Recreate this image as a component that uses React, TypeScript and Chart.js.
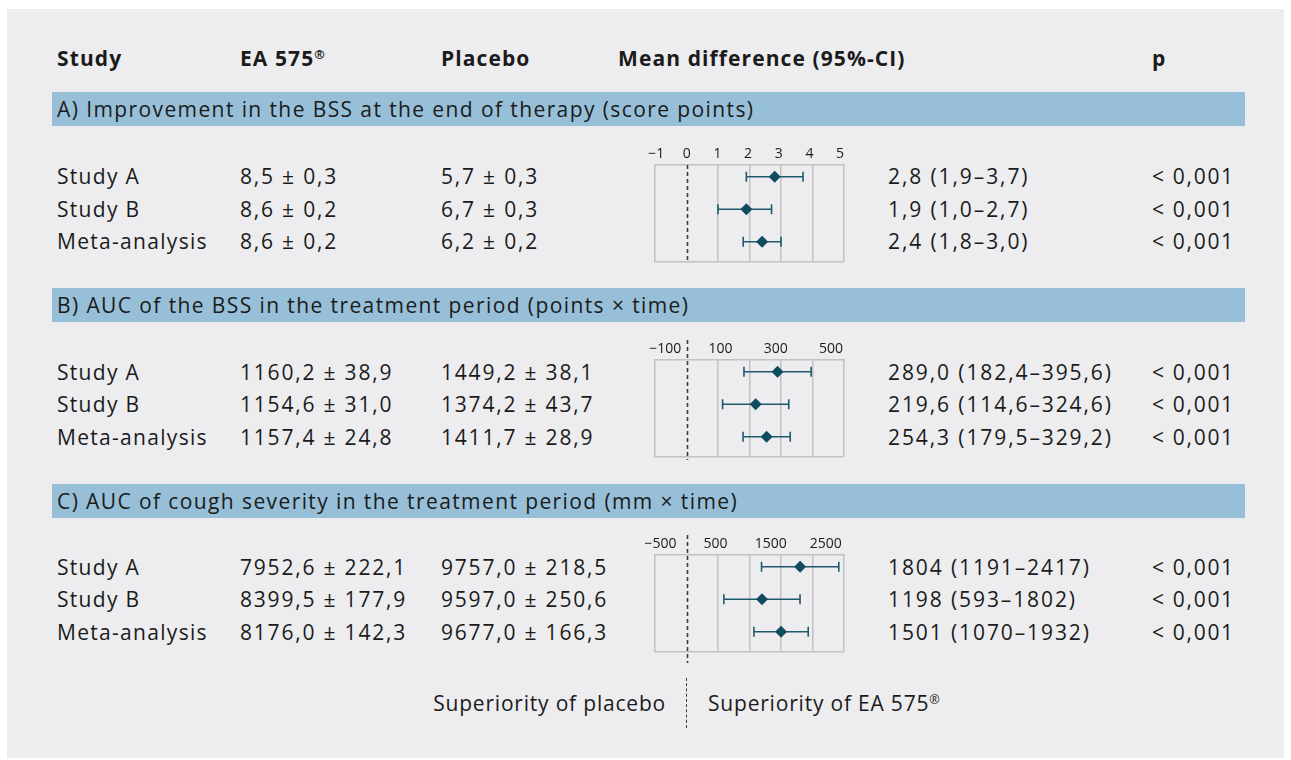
import React, { useEffect, useRef } from "react";
import { Chart, registerables } from "chart.js";

Chart.register(...registerables);

const FONT = "'Open Sans', 'Noto Sans', sans-serif";
const TEXT = "#1b1b1b";
const GRID = "#c2c2c4";
const MARK = "#0f4c5e";
const BAR = "#97bfd8";
const PANEL = "#ededf0";

// ---------- data ----------
const studies = ["Study A", "Study B", "Meta-analysis"];
const headers = ["Study", "EA 575", "Placebo", "Mean difference (95%-CI)", "p"];
const sectionTitles = [
  "A) Improvement in the BSS at the end of therapy (score points)",
  "B) AUC of the BSS in the treatment period (points × time)",
  "C) AUC of cough severity in the treatment period (mm × time)",
];
const pValues = ["< 0,001", "< 0,001", "< 0,001"];

// A
const eaMeanA = [8.5, 8.6, 8.6];
const eaSdA = [0.3, 0.2, 0.2];
const plMeanA = [5.7, 6.7, 6.2];
const plSdA = [0.3, 0.3, 0.2];
const diffA = [2.8, 1.9, 2.4];
const loA = [1.9, 1.0, 1.8];
const hiA = [3.7, 2.7, 3.0];
const tickLabelsA = [-1, 0, 1, 2, 3, 4, 5];

// B
const eaMeanB = [1160.2, 1154.6, 1157.4];
const eaSdB = [38.9, 31.0, 24.8];
const plMeanB = [1449.2, 1374.2, 1411.7];
const plSdB = [38.1, 43.7, 28.9];
const diffB = [289.0, 219.6, 254.3];
const loB = [182.4, 114.6, 179.5];
const hiB = [395.6, 324.6, 329.2];
const tickLabelsB = [-100, 100, 300, 500];

// C
const eaMeanC = [7952.6, 8399.5, 8176.0];
const eaSdC = [222.1, 177.9, 142.3];
const plMeanC = [9757.0, 9597.0, 9677.0];
const plSdC = [218.5, 250.6, 166.3];
const diffC = [1804, 1198, 1501];
const loC = [1191, 593, 1070];
const hiC = [2417, 1802, 1932];
const tickLabelsC = [-500, 500, 1500, 2500];

const fmt = (v: number, d: number) => v.toFixed(d).replace(".", ",");

// ---------- layout ----------
const COL = { study: 57, ea: 240, pl: 441, md: 618, ci: 888, p: 1152 };
const BOX_LEFT = 655;
const BOX_W = 189;
const BOX_H = 97;
const AXIS_H = 25;
const PAD_B = 15;

const errorBarPlugin = {
  id: "forestBars",
  beforeDatasetsDraw(chart: any, _a: any, opts: any) {
    const { ctx, chartArea } = chart;
    const x = chart.scales.x;
    const y = chart.scales.y;
    const zx = Math.round(x.getPixelForValue(0)) + 0.5;
    ctx.save();
    ctx.strokeStyle = "#3a3a3a";
    ctx.lineWidth = 1.6;
    ctx.setLineDash([4, 3]);
    ctx.beginPath();
    ctx.moveTo(zx, chartArea.top - (opts.extTop || 0));
    ctx.lineTo(zx, chartArea.bottom + (opts.extBottom || 0));
    ctx.stroke();
    ctx.setLineDash([]);
    ctx.strokeStyle = "#1e5a6c";
    ctx.lineWidth = 1.6;
    const lo: number[] = opts.lo || [];
    const hi: number[] = opts.hi || [];
    lo.forEach((l, i) => {
      const py = y.getPixelForValue(i);
      const x1 = x.getPixelForValue(l);
      const x2 = x.getPixelForValue(hi[i]);
      ctx.beginPath();
      ctx.moveTo(x1, py);
      ctx.lineTo(x2, py);
      ctx.moveTo(x1, py - 5);
      ctx.lineTo(x1, py + 5);
      ctx.moveTo(x2, py - 5);
      ctx.lineTo(x2, py + 5);
      ctx.stroke();
    });
    ctx.restore();
  },
};

type ForestProps = {
  top: number;
  mean: number[];
  lo: number[];
  hi: number[];
  gridMin: number;
  gridMax: number;
  gridStep: number;
  labels: number[];
  labelMin: number;
  labelMax: number;
  extTop: number;
  extBottom: number;
};

function Forest(p: ForestProps) {
  const ref = useRef<HTMLCanvasElement | null>(null);
  const W = 220;
  const H = AXIS_H + BOX_H + PAD_B;
  const left = BOX_LEFT - 15;
  useEffect(() => {
    if (!ref.current) return;
    const chart = new Chart(ref.current, {
      type: "scatter",
      data: {
        datasets: [
          {
            data: p.mean.map((m, i) => ({ x: m, y: i })),
            pointStyle: "rectRot",
            pointRadius: 6,
            backgroundColor: MARK,
            borderColor: MARK,
            borderWidth: 0,
          },
        ],
      },
      options: {
        animation: false,
        responsive: false,
        maintainAspectRatio: false,
        layout: { padding: { left: 15, right: W - 15 - BOX_W, top: 0, bottom: PAD_B } },
        plugins: {
          legend: { display: false },
          tooltip: { enabled: false },
          forestBars: { lo: p.lo, hi: p.hi, extTop: p.extTop, extBottom: p.extBottom },
        } as any,
        scales: {
          x: {
            type: "linear",
            position: "bottom",
            min: p.gridMin,
            max: p.gridMax,
            ticks: { display: false, stepSize: p.gridStep },
            grid: {
              drawTicks: false,
              lineWidth: 1.5,
              color: (c: any) => (c.tick && c.tick.value === 0 ? "rgba(0,0,0,0)" : GRID),
            },
            border: { display: true, color: GRID, width: 1.5 },
            afterFit: (s: any) => {
              s.height = 0;
            },
          },
          x2: {
            type: "linear",
            position: "top",
            min: p.labelMin,
            max: p.labelMax,
            afterBuildTicks: (axis: any) => {
              axis.ticks = p.labels.map((v) => ({ value: v }));
            },
            ticks: {
              autoSkip: false,
              maxRotation: 0,
              padding: 3,
              color: TEXT,
              font: { family: FONT, size: 14 },
              callback: (v: any) => String(v).replace("-", "\u2212"),
            },
            grid: { display: false, drawTicks: false },
            border: { display: true, color: GRID, width: 1.5 },
            afterFit: (s: any) => {
              s.height = AXIS_H;
            },
          },
          y: {
            type: "linear",
            display: false,
            reverse: true,
            min: -0.36,
            max: 2.62,
          },
        },
      },
      plugins: [errorBarPlugin],
    } as any);
    return () => chart.destroy();
  }, []);
  return (
    <canvas
      ref={ref}
      width={W}
      height={H}
      style={{ position: "absolute", left, top: p.top - AXIS_H, width: W, height: H }}
    />
  );
}

function T(props: { x: number; y: number; children: any; bold?: boolean; align?: "left" | "right"; ls?: number }) {
  const style: any = {
    position: "absolute",
    top: props.y,
    transform: "translateY(-50%)",
    whiteSpace: "nowrap",
    fontFamily: FONT,
    fontSize: 21,
    lineHeight: "28px",
    color: TEXT,
    fontWeight: props.bold ? 700 : 400,
    letterSpacing: (props.ls ?? 1.2) + "px",
  };
  if (props.align === "right") style.right = 1291 - props.x;
  else style.left = props.x;
  return <div style={style}>{props.children}</div>;
}

const Reg = () => <sup style={{ fontSize: "0.6em", verticalAlign: "0.55em", lineHeight: 0 }}>®</sup>;

type Section = {
  title: string;
  barTop: number;
  rowY: number[];
  ea: number[];
  eaSd: number[];
  pl: number[];
  plSd: number[];
  d: number;
  diff: number[];
  lo: number[];
  hi: number[];
  ciDec: number;
};

export default function App() {
  const sections: Section[] = [
    { title: sectionTitles[0], barTop: 92, rowY: [176, 209, 241], ea: eaMeanA, eaSd: eaSdA, pl: plMeanA, plSd: plSdA, d: 1, diff: diffA, lo: loA, hi: hiA, ciDec: 1 },
    { title: sectionTitles[1], barTop: 288, rowY: [372, 404, 437], ea: eaMeanB, eaSd: eaSdB, pl: plMeanB, plSd: plSdB, d: 1, diff: diffB, lo: loB, hi: hiB, ciDec: 1 },
    { title: sectionTitles[2], barTop: 484, rowY: [567, 599, 632], ea: eaMeanC, eaSd: eaSdC, pl: plMeanC, plSd: plSdC, d: 1, diff: diffC, lo: loC, hi: hiC, ciDec: 0 },
  ];
  return (
    <div style={{ position: "absolute", left: 0, top: 0, width: 1291, height: 760, background: "#ffffff", overflow: "hidden" }}>
      <div style={{ position: "absolute", left: 7, top: 9, width: 1277, height: 749, background: PANEL }} />
      <T x={COL.study} y={58} bold ls={1.1}>{headers[0]}</T>
      <T x={COL.ea} y={58} bold ls={1.1}>{headers[1]}<Reg /></T>
      <T x={COL.pl} y={58} bold ls={1.1}>{headers[2]}</T>
      <T x={COL.md} y={58} bold ls={1.1}>{headers[3]}</T>
      <T x={COL.p} y={58} bold ls={1.1}>{headers[4]}</T>
      {sections.map((s, si) => (
        <React.Fragment key={si}>
          <div style={{ position: "absolute", left: 52, top: s.barTop, width: 1193, height: 34, background: BAR }} />
          <T x={57} y={s.barTop + 17} ls={1.4}>{s.title}</T>
          {studies.map((st, i) => (
            <React.Fragment key={i}>
              <T x={COL.study} y={s.rowY[i]} ls={1.3}>{st}</T>
              <T x={COL.ea} y={s.rowY[i]} ls={1.8}>{`${fmt(s.ea[i], s.d)} ± ${fmt(s.eaSd[i], 1)}`}</T>
              <T x={COL.pl} y={s.rowY[i]} ls={1.8}>{`${fmt(s.pl[i], s.d)} ± ${fmt(s.plSd[i], 1)}`}</T>
              <T x={COL.ci} y={s.rowY[i]} ls={1.9}>{`${fmt(s.diff[i], s.ciDec)} (${fmt(s.lo[i], s.ciDec)}\u2013${fmt(s.hi[i], s.ciDec)})`}</T>
              <T x={COL.p} y={s.rowY[i]} ls={1.7}>{pValues[i]}</T>
            </React.Fragment>
          ))}
        </React.Fragment>
      ))}
      <Forest top={165} mean={diffA} lo={loA} hi={hiA} gridMin={-1} gridMax={5} gridStep={1} labels={tickLabelsA} labelMin={-1.04} labelMax={5.13} extTop={0} extBottom={0} />
      <Forest top={360} mean={diffB} lo={loB} hi={hiB} gridMin={-100} gridMax={500} gridStep={100} labels={tickLabelsB} labelMin={-137} labelMax={547} extTop={20} extBottom={3} />
      <Forest top={555} mean={diffC} lo={loC} hi={hiC} gridMin={-500} gridMax={2500} gridStep={500} labels={tickLabelsC} labelMin={-599} labelMax={2831} extTop={20} extBottom={11} />
      <T x={666} y={703} align="right" ls={0.8}>Superiority of placebo</T>
      <div style={{ position: "absolute", left: 686, top: 678, width: 0, height: 50, borderLeft: "1.6px dashed #3a3a3a" }} />
      <T x={708} y={703} ls={0.8}>Superiority of EA 575<Reg /></T>
    </div>
  );
}
